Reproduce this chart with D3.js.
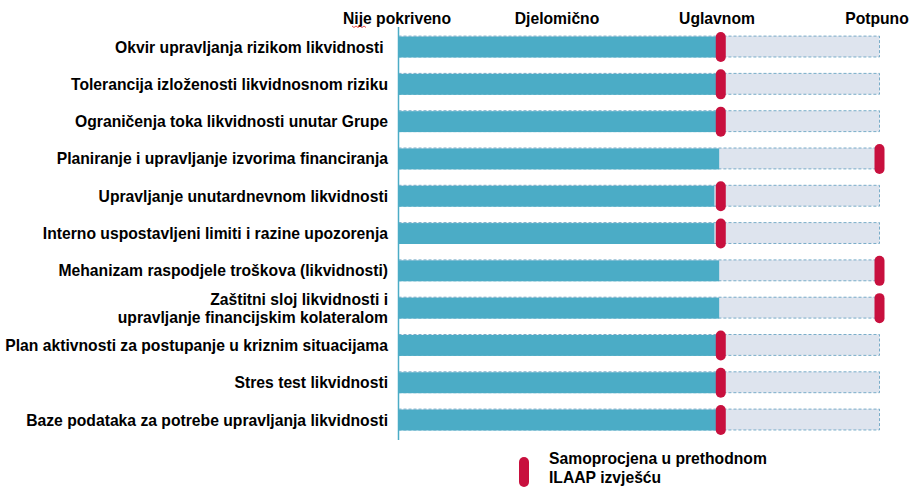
<!DOCTYPE html>
<html><head><meta charset="utf-8">
<script src="https://cdn.jsdelivr.net/npm/d3@7"></script>
<style>body{margin:0;background:#fff}svg{display:block}text{font-family:"Liberation Sans",Arial,sans-serif;font-weight:bold;fill:#000}</style>
</head><body><svg id="c" width="914" height="492"></svg>
<script>
const categories = [
  "Okvir upravljanja rizikom likvidnosti ",
  "Tolerancija izloženosti likvidnosnom riziku",
  "Ograničenja toka likvidnosti unutar Grupe",
  "Planiranje i upravljanje izvorima financiranja",
  "Upravljanje unutardnevnom likvidnosti",
  "Interno uspostavljeni limiti i razine upozorenja",
  "Mehanizam raspodjele troškova (likvidnosti)",
  "Zaštitni sloj likvidnosti i\nupravljanje financijskim kolateralom",
  "Plan aktivnosti za postupanje u kriznim situacijama",
  "Stres test likvidnosti",
  "Baze podataka za potrebe upravljanja likvidnosti"
];
const currentValues = [1.98,1.98,1.98,2.0,1.97,1.97,2.0,2.0,1.98,1.98,1.98];
const previousValues = [2.01,2.01,2.01,3.0,2.01,2.01,3.0,3.0,2.01,2.01,2.01];
const maxValue = 3;
const tickLabels = ["Nije pokriveno","Djelomično","Uglavnom","Potpuno"];
const legendLabel = ["Samoprocjena u prethodnom","ILAAP izvješću"];

const svg = d3.select("#c");
const x = d3.scaleLinear().domain([0,3]).range([398.5,879.5]);
const y = d3.scaleBand().domain(categories).range([28.4,438.7]).paddingInner(0.44).paddingOuter(0.22);
const teal = "#4bacc6", red = "#c8103e";
const fs = "15.7px";

// background bars
svg.append("g").selectAll("rect").data(categories).join("rect")
  .attr("x", x(0)).attr("y", d=>y(d)-0.5).attr("width", x(maxValue)-x(0)).attr("height", y.bandwidth())
  .attr("fill","#dee4ee").attr("stroke","#5b9bbd").attr("stroke-width",0.8).attr("stroke-dasharray","3,2");
// teal bars
svg.append("g").selectAll("rect").data(categories).join("rect")
  .attr("x", x(0)).attr("y", d=>y(d)).attr("width", (d,i)=>x(currentValues[i])-x(0)).attr("height", y.bandwidth())
  .attr("fill", teal);
// axis line
svg.append("line").attr("x1",x(0)).attr("x2",x(0)).attr("y1",27).attr("y2",440).attr("stroke",teal).attr("stroke-width",1.5);
// markers
svg.append("g").selectAll("rect").data(categories).join("rect")
  .attr("x", (d,i)=>x(previousValues[i])-5).attr("y", d=>y(d)+y.bandwidth()/2-15)
  .attr("width",10).attr("height",30).attr("rx",5).attr("ry",5).attr("fill",red);

// top tick labels
const xt = d3.scaleLinear().domain([0,3]).range([397,877]);
svg.append("g").selectAll("text").data(tickLabels).join("text")
  .attr("x",(d,i)=>xt(i)).attr("y",24).attr("text-anchor","middle").attr("font-size",fs).text(d=>d);
// spell squiggle under "ij"
svg.append("path").attr("d", d3.range(0,8).map(k=>(k?"L":"M")+(352+k*2)+","+(k%2?27.5:26)).join(""))
  .attr("fill","none").attr("stroke","#d00").attr("stroke-width",0.7);

// category labels
const lab = svg.append("g");
categories.forEach((c,i)=>{
  const lines = c.split("\n");
  const cy = y(c)+y.bandwidth()/2;
  lines.forEach((l,j)=>{
    lab.append("text").attr("x",388).attr("y",cy + 5.5 + (j-(lines.length-1)/2)*18)
      .attr("text-anchor","end").attr("font-size",fs).attr("xml:space","preserve").text(l);
  });
});

// legend
svg.append("rect").attr("x",519).attr("y",457).attr("width",10).attr("height",30).attr("rx",5).attr("fill",red);
legendLabel.forEach((l,j)=>svg.append("text").attr("x",549).attr("y",464+j*19).attr("font-size",fs).text(l));
</script></body></html>
